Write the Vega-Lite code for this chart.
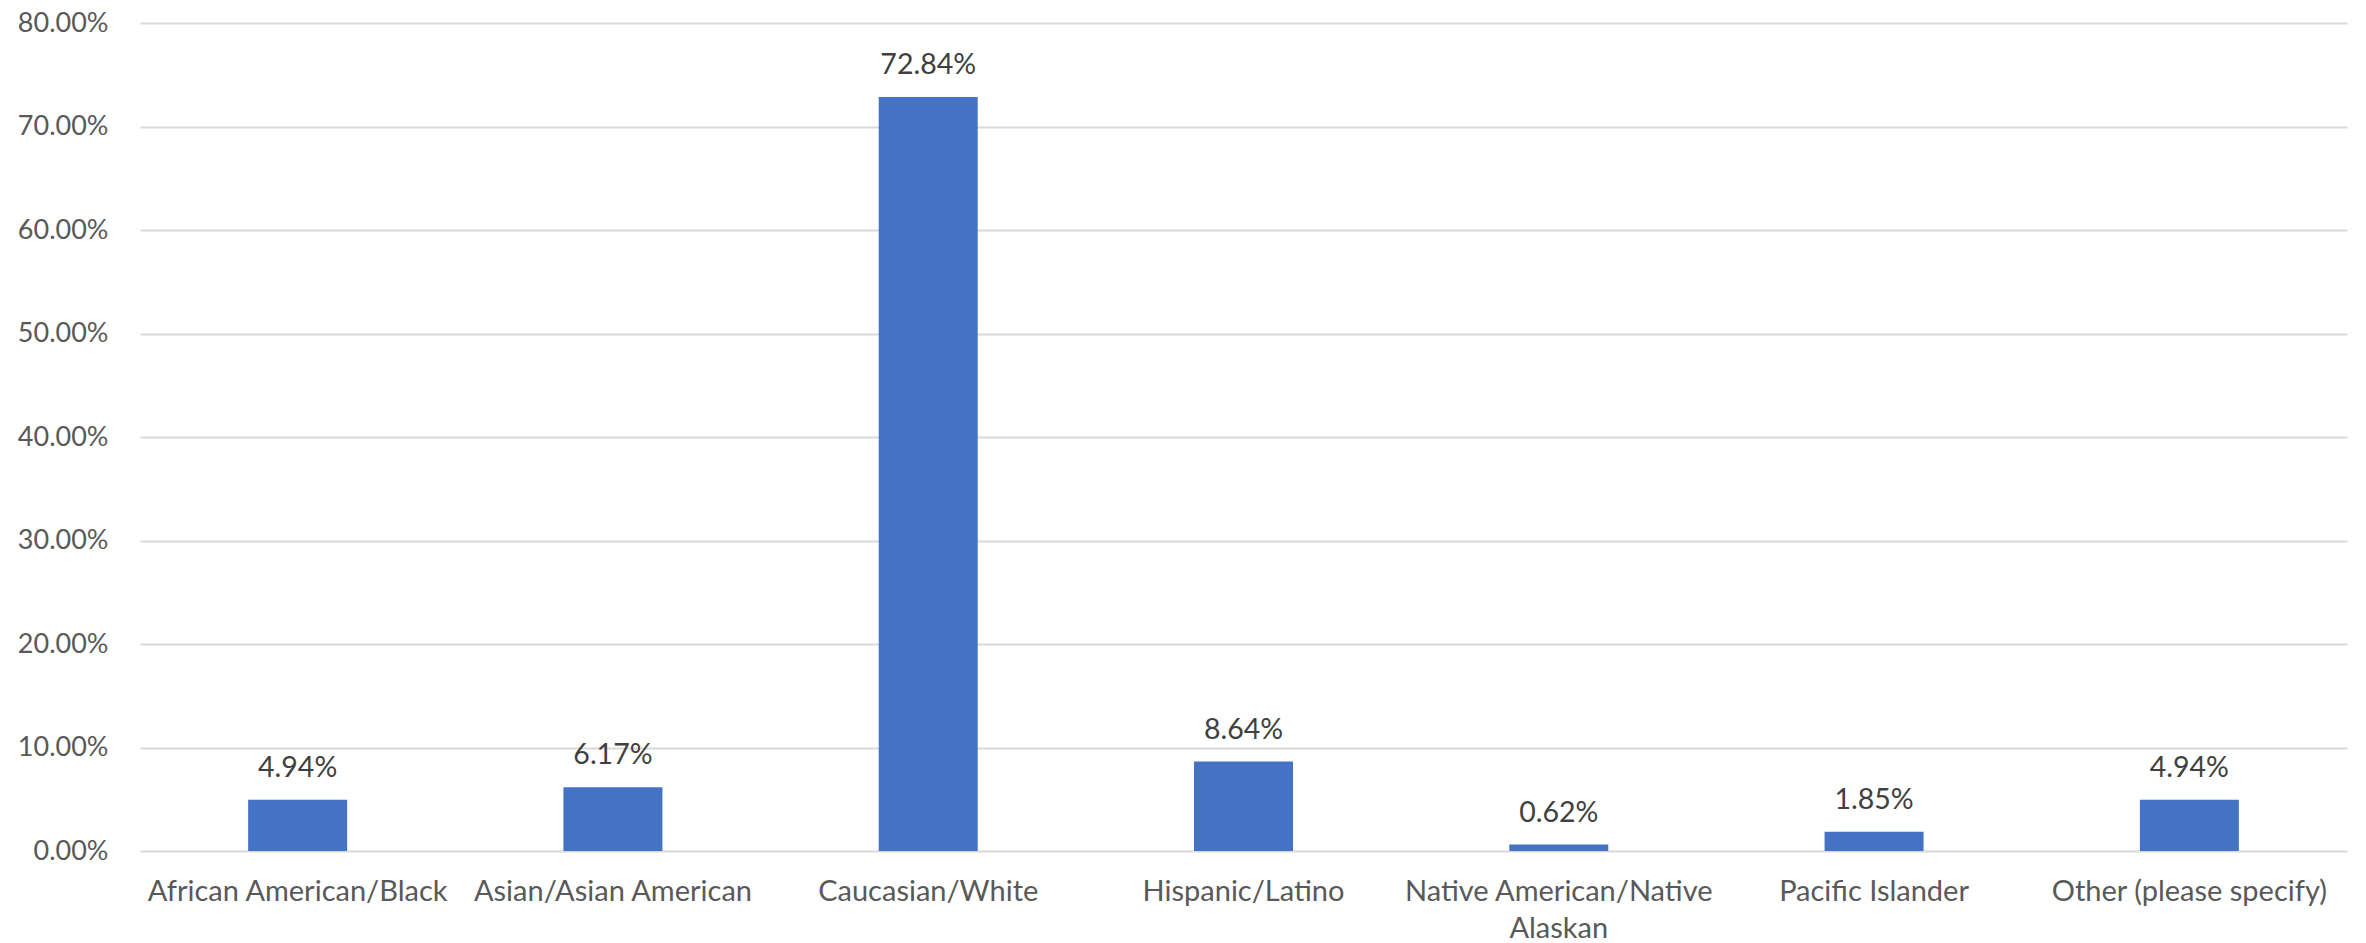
{
  "$schema": "https://vega.github.io/schema/vega-lite/v6.json",
  "autosize": {"type": "none"},
  "padding": {"left": 140, "top": 23, "right": 19, "bottom": 92},
  "width": 2207,
  "height": 828,
  "background": "white",
  "config": {"view": {"stroke": null}, "font": "Lato"},
  "data": {"values": [
    {"group": "African American/Black", "share": 0.0494},
    {"group": "Asian/Asian American", "share": 0.0617},
    {"group": "Caucasian/White", "share": 0.7284},
    {"group": "Hispanic/Latino", "share": 0.0864},
    {"group": "Native American/Native Alaskan", "share": 0.0062},
    {"group": "Pacific Islander", "share": 0.0185},
    {"group": "Other (please specify)", "share": 0.0494}
  ]},
  "encoding": {
    "x": {"field": "group", "type": "nominal", "sort": null,
      "scale": {"paddingInner": 0.686, "paddingOuter": 0.343},
      "axis": {"title": null, "labelAngle": 0, "ticks": false, "domain": false,
        "labelFont": "Lato", "labelFontSize": 29, "labelColor": "#595959", "labelPadding": 26,
        "labelLimit": 400, "labelLineHeight": 37,
        "labelExpr": "datum.label == 'Native American/Native Alaskan' ? ['Native American/Native', 'Alaskan'] : datum.label"}},
    "y": {"field": "share", "type": "quantitative",
      "scale": {"domain": [0, 0.8], "nice": false},
      "axis": {"title": null, "format": ".2%", "values": [0, 0.1, 0.2, 0.3, 0.4, 0.5, 0.6, 0.7, 0.8],
        "ticks": false, "domain": false, "gridColor": "#D9D9D9", "gridWidth": 2,
        "labelFont": "Lato", "labelFontSize": 27, "labelColor": "#595959", "labelPadding": 32}}
  },
  "layer": [
    {"mark": {"type": "bar", "color": "#4472C4"}},
    {"mark": {"type": "text", "baseline": "alphabetic", "dy": -23, "font": "Lato", "fontSize": 28.5, "color": "#404040"},
      "encoding": {"text": {"field": "share", "type": "quantitative", "format": ".2%"}}}
  ]
}
